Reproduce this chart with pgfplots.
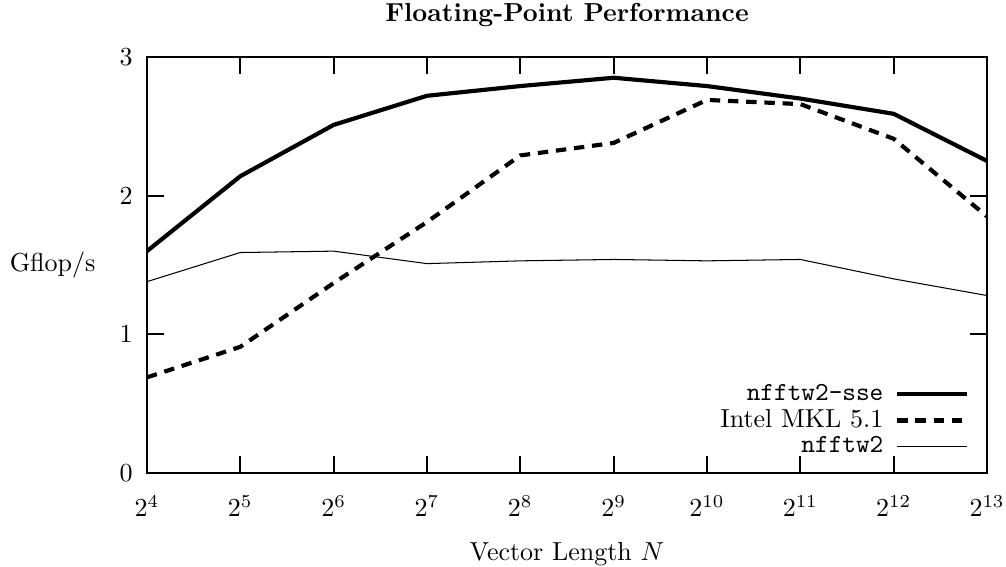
\documentclass[border=0pt]{standalone}
\usepackage{pgfplots}
\pgfplotsset{compat=1.18}

\begin{document}
\begin{tikzpicture}
\begin{axis}[
    name=ax,
    scale only axis,
    width=323pt,
    height=160pt,
    xmin=4, xmax=13,
    ymin=0, ymax=3,
    xtick={4,...,13},
    xticklabels={$2^{4}$,$2^{5}$,$2^{6}$,$2^{7}$,$2^{8}$,$2^{9}$,$2^{10}$,$2^{11}$,$2^{12}$,$2^{13}$},
    ytick={0,1,2,3},
    tick align=inside,
    tick pos=both,
    major tick length=6.5pt,
    axis line style={line width=0.8pt},
    every tick/.style={line width=0.8pt, black},
    x tick label style={yshift=-5pt},
    y tick label style={xshift=-2pt},
    title={\textbf{Floating-Point Performance}},
    every axis title/.style={at={(axis description cs:0.5,1)}, anchor=south, yshift=8pt},
    xlabel={Vector Length $N$},
    every axis x label/.style={at={(axis description cs:0.5,0)}, anchor=north, yshift=-23pt},
    ylabel={Gflop/s},
    every axis y label/.style={at={(axis description cs:0,0.5)}, anchor=east, xshift=-16.3pt},
    legend plot pos=right,
    legend cell align=right,
    legend style={draw=none, fill=none, at={(axis description cs:0.989,0.013)},
                  anchor=south east, row sep=-2pt,
                  nodes={inner xsep=4.5pt}},
    legend image code/.code={\draw[#1] (0pt,0pt) -- (27pt,0pt);},
]
\addplot[black, line width=1.6pt] coordinates {
    (4,1.60) (5,2.14) (6,2.51) (7,2.72) (8,2.79)
    (9,2.85) (10,2.79) (11,2.70) (12,2.59) (13,2.25)
};
\addlegendentry{\texttt{nfftw2-sse}}
\addplot[black, line width=1.6pt, dash pattern=on 4pt off 3pt] coordinates {
    (4,0.69) (5,0.91) (6,1.37) (7,1.81) (8,2.29)
    (9,2.38) (10,2.69) (11,2.66) (12,2.41) (13,1.85)
};
\addlegendentry{Intel MKL 5.1}
\addplot[black, line width=0.4pt] coordinates {
    (4,1.38) (5,1.59) (6,1.60) (7,1.51) (8,1.53)
    (9,1.54) (10,1.53) (11,1.54) (12,1.40) (13,1.28)
};
\addlegendentry{\texttt{nfftw2}}
\end{axis}
\pgfresetboundingbox
\path (ax.south west) ++(-56.5pt,-35.8pt) rectangle ([shift={(7.3pt,21.9pt)}]ax.north east);
\end{tikzpicture}
\end{document}
